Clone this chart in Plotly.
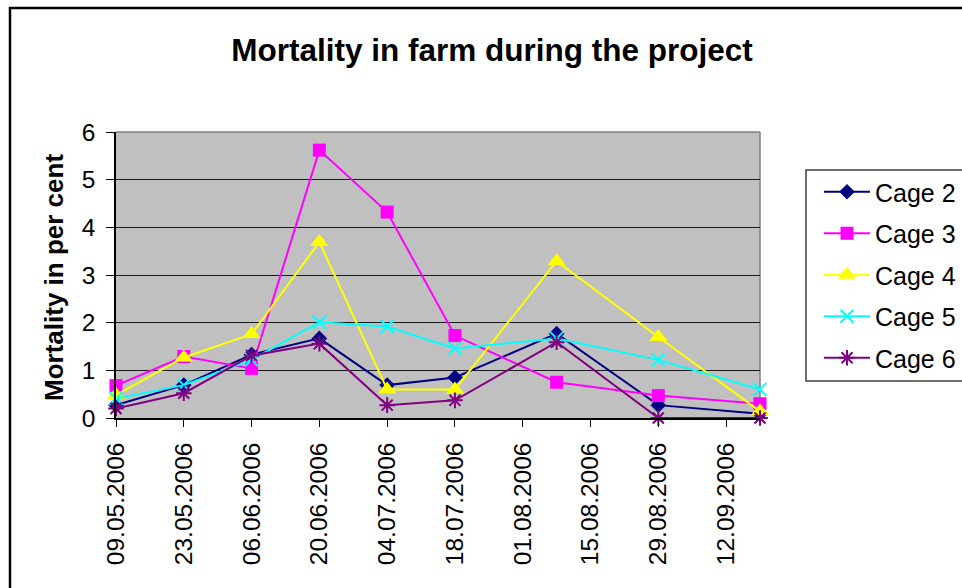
import plotly.graph_objects as go

dates = ["2006-05-09", "2006-05-23", "2006-06-06", "2006-06-20", "2006-07-04",
         "2006-07-18", "2006-08-08", "2006-08-29", "2006-09-19"]
cage2 = [0.27, 0.69, 1.33, 1.67, 0.69, 0.85, 1.77, 0.27, 0.09]
cage3 = [0.68, 1.29, 1.04, 5.62, 4.32, 1.73, 0.75, 0.47, 0.30]
cage4 = [0.48, 1.27, 1.76, 3.69, 0.60, 0.60, 3.29, 1.70, 0.14]
cage5 = [0.41, 0.69, 1.22, 2.01, 1.92, 1.46, 1.67, 1.22, 0.60]
cage6 = [0.20, 0.52, 1.31, 1.56, 0.27, 0.37, 1.59, 0.00, 0.00]
tick_dates = ["2006-05-09", "2006-05-23", "2006-06-06", "2006-06-20", "2006-07-04",
              "2006-07-18", "2006-08-01", "2006-08-15", "2006-08-29", "2006-09-12"]
tick_labels = ["09.05.2006", "23.05.2006", "06.06.2006", "20.06.2006", "04.07.2006",
               "18.07.2006", "01.08.2006", "15.08.2006", "29.08.2006", "12.09.2006"]
y_ticks = [0, 1, 2, 3, 4, 5, 6]

FONT = "Liberation Sans, Arial, sans-serif"
W, H = 962, 588
L, R, T, B = 116, 760, 132, 418


def px_x(p):
    return (p - L) / (R - L)


def px_y(p):
    return (B - p) / (B - T)


series = [
    ("Cage 2", cage2, "#000080", dict(symbol="diamond", size=12, color="#000080")),
    ("Cage 3", cage3, "#FF00FF", dict(symbol="square", size=13, color="#FF00FF")),
    ("Cage 4", cage4, "#FFFF00", dict(symbol="triangle-up", size=16, color="#FFFF00")),
    ("Cage 5", cage5, "#00FFFF", dict(symbol="x-thin-open", size=13, color="#00FFFF",
                                      line=dict(color="#00FFFF", width=2))),
    ("Cage 6", cage6, "#800080", dict(symbol="asterisk-open", size=13, color="#800080",
                                      line=dict(color="#800080", width=2))),
]

fig = go.Figure()
for i, (name, vals, col, mk) in enumerate(series):
    fig.add_trace(go.Scatter(
        x=dates, y=vals, name=name, mode="lines+markers",
        line=dict(color=col, width=2), marker=mk, cliponaxis=False,
        legendgroup=f"g{i}",
    ))

shapes = [
    # outer chart border
    dict(type="rect", xref="paper", yref="paper",
         x0=px_x(10), x1=px_x(1000), y0=px_y(8), y1=px_y(640),
         line=dict(color="black", width=2.5), layer="below"),
    # plot area top / right border
    dict(type="line", xref="paper", yref="paper", x0=0, x1=1, y0=1, y1=1,
         line=dict(color="#808080", width=1.5), layer="between"),
    dict(type="line", xref="paper", yref="paper", x0=1, x1=1, y0=0, y1=1,
         line=dict(color="#808080", width=1.5), layer="between"),
    # legend box
    dict(type="rect", xref="paper", yref="paper",
         x0=px_x(806), x1=px_x(1000), y0=px_y(170), y1=px_y(381),
         line=dict(color="#404040", width=1.5), fillcolor="white", layer="below"),
]

fig.update_layout(
    width=W, height=H,
    margin=dict(l=L, r=W - R, t=T, b=H - B, pad=0, autoexpand=False),
    paper_bgcolor="white", plot_bgcolor="#C0C0C0",
    font=dict(family=FONT, color="black", size=24),
    title=dict(text="<b>Mortality in farm during the project</b>",
               font=dict(family=FONT, size=31.5, color="black"),
               x=492 / W, xanchor="center", xref="container",
               y=1 - 50 / H, yanchor="middle", yref="container"),
    xaxis=dict(type="date", range=["2006-05-09", "2006-09-19"],
               tickvals=tick_dates, ticktext=tick_labels, tickangle=-90,
               ticks="outside", ticklen=7, tickcolor="black", tickwidth=1,
               showline=True, linecolor="black", linewidth=1.5,
               showgrid=False, zeroline=False,
               tickfont=dict(family=FONT, size=24.5, color="black"),
               ticklabelstandoff=6),
    yaxis=dict(range=[0, 6], tickvals=y_ticks, ticks="outside", ticklen=8,
               tickcolor="black", tickwidth=1,
               showline=True, linecolor="black", linewidth=1.5,
               showgrid=True, gridcolor="#1a1a1a", gridwidth=1, zeroline=False,
               tickfont=dict(family=FONT, size=24.5, color="black"),
               ticklabelstandoff=6),
    showlegend=True,
    legend=dict(x=px_x(819), xanchor="left", y=px_y(169), yanchor="top",
                bgcolor="rgba(0,0,0,0)", borderwidth=0,
                font=dict(family=FONT, size=25, color="black"),
                tracegroupgap=6, itemwidth=46),
    shapes=shapes,
    annotations=[dict(text="<b>Mortality in per cent</b>", textangle=-90,
                      xref="paper", yref="paper", x=px_x(54), y=px_y(278),
                      xanchor="center", yanchor="middle", showarrow=False,
                      font=dict(family=FONT, size=26, color="black"))],
)

fig.write_html("out.html", config={"displayModeBar": False},
               post_script="document.body.style.margin='0';document.body.style.overflow='hidden';")
